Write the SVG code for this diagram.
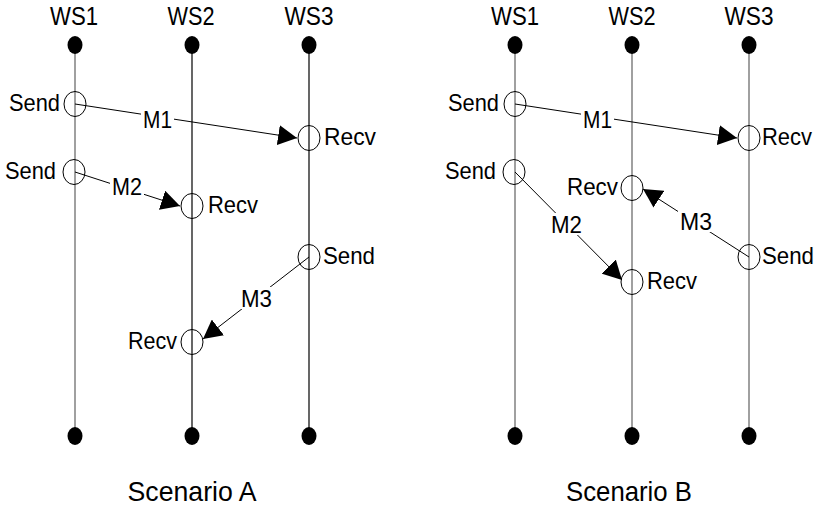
<svg xmlns="http://www.w3.org/2000/svg" width="818" height="508" viewBox="0 0 818 508">
<style>
text{font-family:"Liberation Sans",Arial,sans-serif;fill:#000}
.t{font-size:24.5px}
.h{font-size:25.5px}
.c{font-size:28.5px}
.g{stroke:#808080;stroke-width:1.5}
.k{stroke:#000;stroke-width:1.2}
.dot{fill:#000}
.ev{fill:none;stroke:#000;stroke-width:1}
.msg{stroke:#000;stroke-width:1;fill:none;marker-end:url(#ah)}
.bg{fill:#fff}
</style>
<defs>
<marker id="ah" markerUnits="userSpaceOnUse" markerWidth="20" markerHeight="20" viewBox="0 0 18 18" refX="17" refY="9" orient="auto">
<path d="M0,0 L17,9 L0,18 Z" fill="#000"/>
</marker>
</defs>
<g id="lifelines">
<line class="g" x1="75" y1="45" x2="75" y2="436"/>
<line class="k" x1="192" y1="45" x2="192" y2="436"/>
<line class="k" x1="309" y1="45" x2="309" y2="436"/>
<line class="g" x1="515" y1="45" x2="515" y2="436"/>
<line class="g" x1="632" y1="45" x2="632" y2="436"/>
<line class="g" x1="749" y1="45" x2="749" y2="436"/>
</g>
<g id="connectors">
<line class="msg" x1="75" y1="104" x2="297" y2="138"/>
<line class="msg" x1="75" y1="172" x2="180" y2="206"/>
<line class="msg" x1="309" y1="257" x2="203" y2="339"/>
<line class="msg" x1="515" y1="104" x2="737" y2="138"/>
<line class="msg" x1="515" y1="172" x2="622" y2="280"/>
<line class="msg" x1="749" y1="257" x2="643" y2="189"/>
<rect class="bg" x="141" y="108" width="33" height="22"/>
<text class="t" x="143" y="128" textLength="29" lengthAdjust="spacingAndGlyphs">M1</text>
<rect class="bg" x="110" y="175" width="34" height="22"/>
<text class="t" x="112" y="195" textLength="30" lengthAdjust="spacingAndGlyphs">M2</text>
<rect class="bg" x="239" y="287" width="35" height="22"/>
<text class="t" x="241" y="307" textLength="31" lengthAdjust="spacingAndGlyphs">M3</text>
<rect class="bg" x="581" y="108" width="33" height="22"/>
<text class="t" x="583" y="128" textLength="29" lengthAdjust="spacingAndGlyphs">M1</text>
<rect class="bg" x="549" y="213" width="35" height="22"/>
<text class="t" x="551" y="233" textLength="31" lengthAdjust="spacingAndGlyphs">M2</text>
<rect class="bg" x="678" y="210" width="36" height="22"/>
<text class="t" x="680" y="230" textLength="32" lengthAdjust="spacingAndGlyphs">M3</text>
</g>
<g id="scenarioA">
<g id="A-WS1"><text class="h" x="74" y="25" text-anchor="middle" textLength="48" lengthAdjust="spacingAndGlyphs">WS1</text><ellipse class="dot" cx="75" cy="45" rx="7.5" ry="9"/><ellipse class="dot" cx="75" cy="436" rx="7.5" ry="9"/></g>
<g id="A-WS2"><text class="h" x="191" y="25" text-anchor="middle" textLength="47" lengthAdjust="spacingAndGlyphs">WS2</text><ellipse class="dot" cx="192" cy="45" rx="7.5" ry="9"/><ellipse class="dot" cx="192" cy="436" rx="7.5" ry="9"/></g>
<g id="A-WS3"><text class="h" x="309" y="25" text-anchor="middle" textLength="49" lengthAdjust="spacingAndGlyphs">WS3</text><ellipse class="dot" cx="309" cy="45" rx="7.5" ry="9"/><ellipse class="dot" cx="309" cy="436" rx="7.5" ry="9"/></g>
<g id="A-send1"><ellipse class="ev" cx="75" cy="104" rx="11" ry="12.5"/><text class="t" x="9" y="111" textLength="51" lengthAdjust="spacingAndGlyphs">Send</text></g>
<g id="A-send2"><ellipse class="ev" cx="74" cy="172" rx="11" ry="12.5"/><text class="t" x="5" y="179" textLength="51" lengthAdjust="spacingAndGlyphs">Send</text></g>
<g id="A-recv1"><ellipse class="ev" cx="309" cy="138" rx="11" ry="12.5"/><text class="t" x="324" y="145" textLength="52" lengthAdjust="spacingAndGlyphs">Recv</text></g>
<g id="A-recv2"><ellipse class="ev" cx="192" cy="206" rx="11" ry="12.5"/><text class="t" x="208" y="213" textLength="50" lengthAdjust="spacingAndGlyphs">Recv</text></g>
<g id="A-send3"><ellipse class="ev" cx="309" cy="257" rx="11" ry="12.5"/><text class="t" x="323" y="264" textLength="52" lengthAdjust="spacingAndGlyphs">Send</text></g>
<g id="A-recv3"><ellipse class="ev" cx="192" cy="342" rx="11" ry="12.5"/><text class="t" x="128" y="349" textLength="49" lengthAdjust="spacingAndGlyphs">Recv</text></g>
<text class="c" x="192" y="501" text-anchor="middle" textLength="129" lengthAdjust="spacingAndGlyphs">Scenario A</text>
</g>
<g id="scenarioB">
<g id="B-WS1"><text class="h" x="515" y="25" text-anchor="middle" textLength="48" lengthAdjust="spacingAndGlyphs">WS1</text><ellipse class="dot" cx="515" cy="45" rx="7.5" ry="9"/><ellipse class="dot" cx="515" cy="436" rx="7.5" ry="9"/></g>
<g id="B-WS2"><text class="h" x="632" y="25" text-anchor="middle" textLength="47" lengthAdjust="spacingAndGlyphs">WS2</text><ellipse class="dot" cx="632" cy="45" rx="7.5" ry="9"/><ellipse class="dot" cx="632" cy="436" rx="7.5" ry="9"/></g>
<g id="B-WS3"><text class="h" x="749" y="25" text-anchor="middle" textLength="49" lengthAdjust="spacingAndGlyphs">WS3</text><ellipse class="dot" cx="749" cy="45" rx="7.5" ry="9"/><ellipse class="dot" cx="749" cy="436" rx="7.5" ry="9"/></g>
<g id="B-send1"><ellipse class="ev" cx="515" cy="104" rx="11" ry="12.5"/><text class="t" x="448" y="111" textLength="51" lengthAdjust="spacingAndGlyphs">Send</text></g>
<g id="B-send2"><ellipse class="ev" cx="514" cy="172" rx="11" ry="12.5"/><text class="t" x="445" y="179" textLength="51" lengthAdjust="spacingAndGlyphs">Send</text></g>
<g id="B-recv1"><ellipse class="ev" cx="749" cy="138" rx="11" ry="12.5"/><text class="t" x="762" y="145" textLength="50" lengthAdjust="spacingAndGlyphs">Recv</text></g>
<g id="B-recv2"><ellipse class="ev" cx="632" cy="188" rx="11" ry="12.5"/><text class="t" x="567" y="195" textLength="51" lengthAdjust="spacingAndGlyphs">Recv</text></g>
<g id="B-send3"><ellipse class="ev" cx="749" cy="257" rx="11" ry="12.5"/><text class="t" x="762" y="264" textLength="52" lengthAdjust="spacingAndGlyphs">Send</text></g>
<g id="B-recv3"><ellipse class="ev" cx="632" cy="282" rx="11" ry="12.5"/><text class="t" x="647" y="289" textLength="50" lengthAdjust="spacingAndGlyphs">Recv</text></g>
<text class="c" x="629" y="501" text-anchor="middle" textLength="126" lengthAdjust="spacingAndGlyphs">Scenario B</text>
</g>
</svg>
